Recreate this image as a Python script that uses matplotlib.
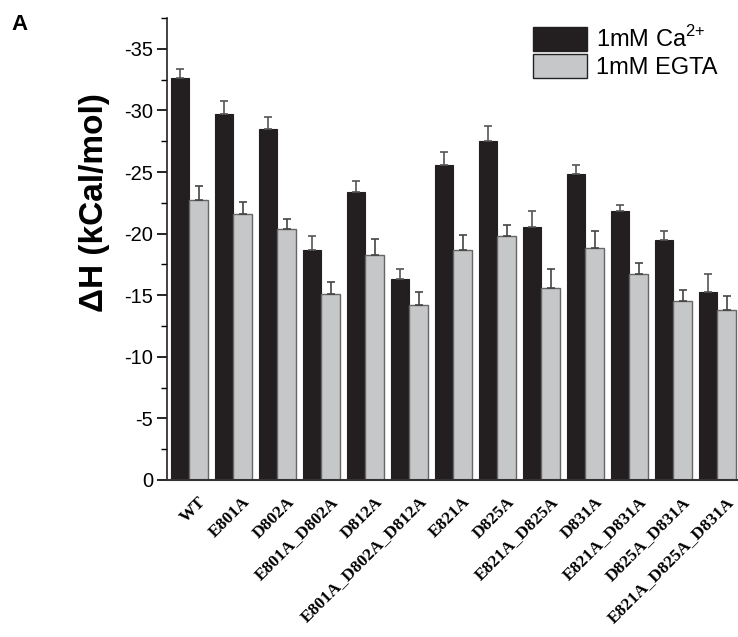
import matplotlib
matplotlib.use("Agg")
import matplotlib.pyplot as plt
import numpy as np
from matplotlib.patches import Patch
from matplotlib.ticker import MultipleLocator

plt.rcParams["mathtext.fontset"] = "custom"
plt.rcParams["mathtext.rm"] = "Liberation Sans"

mutants = ["WT", "E801A", "D802A", "E801A_D802A", "D812A", "E801A_D802A_D812A",
           "E821A", "D825A", "E821A_D825A", "D831A", "E821A_D831A",
           "D825A_D831A", "E821A_D825A_D831A"]
ca_dh = [-32.6, -29.7, -28.5, -18.7, -23.4, -16.3, -25.6, -27.5, -20.5, -24.8, -21.8, -19.5, -15.3]
ca_err = [0.8, 1.1, 1.0, 1.1, 0.9, 0.8, 1.0, 1.2, 1.3, 0.8, 0.5, 0.7, 1.4]
egta_dh = [-22.7, -21.6, -20.4, -15.1, -18.3, -14.2, -18.7, -19.8, -15.6, -18.8, -16.7, -14.5, -13.8]
egta_err = [1.2, 1.0, 0.8, 1.0, 1.3, 1.1, 1.2, 0.9, 1.5, 1.4, 0.9, 0.9, 1.1]

fig = plt.figure(figsize=(7.38, 6.37), dpi=100)
ax = fig.add_axes([0.2263, 0.2465, 0.7737, 0.7252])

x = np.arange(len(mutants))
w = 0.42
zeros = np.zeros(len(mutants))
ax.bar(x - w / 2, ca_dh, w, color="#231f20", edgecolor="#231f20", linewidth=0.8,
       yerr=[ca_err, zeros], capsize=3,
       error_kw=dict(ecolor="#555555", elinewidth=1.2, capthick=1.2))
ax.bar(x + w / 2, egta_dh, w, color="#c6c7c8", edgecolor="#666666", linewidth=1.0,
       yerr=[egta_err, zeros], capsize=3,
       error_kw=dict(ecolor="#444444", elinewidth=1.2, capthick=1.2))

ax.set_xlim(-0.51, 12.47)
ax.set_ylim(0, -37.5)
ax.yaxis.set_major_locator(MultipleLocator(5))
ax.yaxis.set_minor_locator(MultipleLocator(2.5))
ax.spines["top"].set_visible(False)
ax.spines["right"].set_visible(False)
ax.spines["left"].set_linewidth(1.2)
ax.spines["bottom"].set_linewidth(1.5)
ax.spines["left"].set_color("#222222")
ax.spines["bottom"].set_color("#333333")

ax.set_yticks(np.arange(0, -36, -5))
ax.set_yticklabels([str(int(v)) for v in np.arange(0, -36, -5)],
                   fontfamily="Liberation Sans", fontsize=14.5)
ax.tick_params(axis="y", which="major", length=7, width=1.2, direction="out", pad=3)
ax.tick_params(axis="y", which="minor", length=4, width=1.0, direction="out")
ax.tick_params(axis="x", length=0, pad=10)

# labels sit a little right of the group centre, as in the original
ax.set_xticks(x + 0.2)
ax.set_xticklabels(mutants, rotation=45, ha="right", rotation_mode="anchor",
                   fontfamily="Liberation Serif", fontweight="bold", fontsize=12.5)

ax.set_ylabel("ΔH (kCal/mol)", fontfamily="Liberation Sans", fontweight="bold",
              fontsize=24)
ax.yaxis.set_label_coords(-0.10, 0.60)

fig.text(0.016, 0.962, "A", fontfamily="Liberation Sans", fontweight="bold",
         fontsize=16, va="center")

handles = [Patch(facecolor="#231f20", edgecolor="#231f20"),
           Patch(facecolor="#c6c7c8", edgecolor="#222222")]
leg = fig.legend(handles, ["1mM Ca$^{2{+}}$", "1mM EGTA"], loc="upper left",
                 bbox_to_anchor=(533 / 738, 1 - 26 / 637), frameon=False,
                 prop={"family": "Liberation Sans", "size": 17}, borderpad=0,
                 borderaxespad=0, handlelength=2.3, handleheight=1.15,
                 handletextpad=0.35, labelspacing=0.1)

fig.savefig("out.png", dpi=100)
